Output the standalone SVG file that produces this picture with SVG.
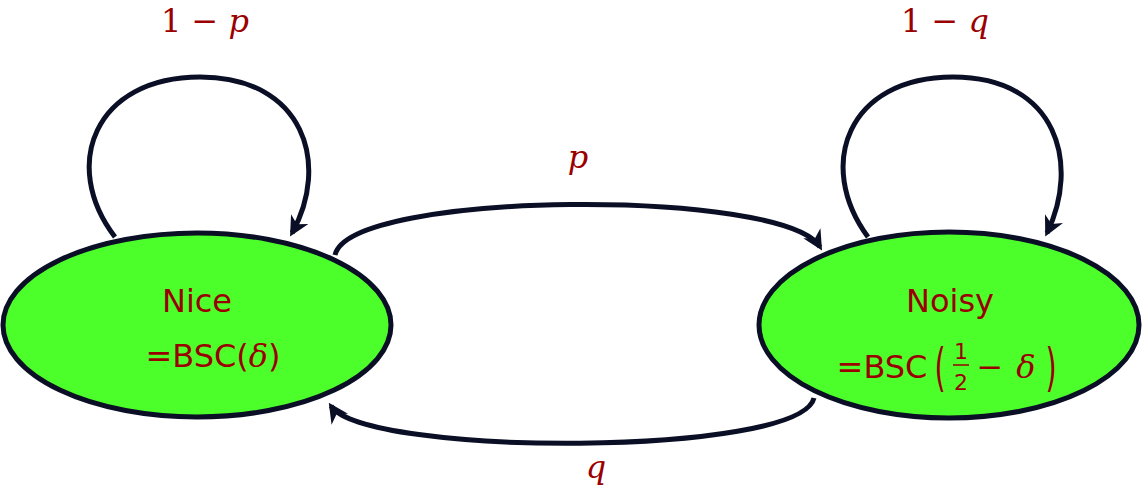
<svg xmlns="http://www.w3.org/2000/svg" width="1145" height="491" viewBox="0 0 1145 491">
<style>
.node{fill:#4cff2a;stroke:#0b0f26;stroke-width:5}
.edge{fill:none;stroke:#0b0f26;stroke-width:5}
.t{font-family:"DejaVu Sans",sans-serif;font-size:32px;fill:#9a0000;text-anchor:middle}
.m{font-family:"DejaVu Serif",serif;font-size:32px;fill:#9a0000;text-anchor:middle}
.i{font-style:italic}
.f{font-family:"DejaVu Sans",sans-serif;font-size:22px;fill:#9a0000;text-anchor:middle}
.p{font-family:"DejaVu Sans",sans-serif;font-size:52px;fill:#9a0000;text-anchor:middle}
</style>
<defs>
<marker id="ah" viewBox="0 0 10 10" refX="8" refY="5" markerWidth="4" markerHeight="4" orient="auto-start-reverse" markerUnits="strokeWidth">
<path d="M0,0 L10,5 L0,10 L3,5 z" fill="#0b0f26"/>
</marker>
</defs>
<g id="connectors">
<path class="edge" d="M115,237 C60,165 95,77 200,77 C305,77 330,165 292,233" marker-end="url(#ah)"/>
<path class="edge" d="M868,237 C815,165 848,77 953,77 C1058,77 1080,165 1047,233" marker-end="url(#ah)"/>
<path class="edge" d="M335,255 C350,190 785,188 820,247" marker-end="url(#ah)"/>
<path class="edge" d="M814,398 C800,457 365,457 331,406" marker-end="url(#ah)"/>
</g>
<g id="nice">
<ellipse class="node" cx="197" cy="325" rx="194" ry="92"/>
<text class="t" x="197" y="312">Nice</text>
<text class="t" x="213" y="367">=BSC(<tspan style="font-family:'DejaVu Serif';font-style:italic">δ</tspan>)</text>
</g>
<g id="noisy">
<ellipse class="node" cx="949" cy="325" rx="190" ry="93"/>
<text class="t" x="950" y="312">Noisy</text>
<text class="t" x="882" y="378">=BSC</text>
<text class="p" transform="translate(940,385) scale(0.55,1)" x="0" y="0">(</text>
<text class="f" x="961" y="359">1</text>
<line x1="953" y1="365" x2="969" y2="365" stroke="#9a0000" stroke-width="1.5"/>
<text class="f" x="961" y="390">2</text>
<text class="t" x="990" y="378">−</text>
<text class="m i" x="1026" y="378">δ</text>
<text class="p" transform="translate(1051,385) scale(0.55,1)" x="0" y="0">)</text>
</g>
<g id="labels">
<text class="m" x="205" y="32">1 − <tspan class="i">p</tspan></text>
<text class="m i" x="578" y="168">p</text>
<text class="m" x="945" y="32">1 − <tspan class="i">q</tspan></text>
<text class="m i" x="596" y="478">q</text>
</g>
</svg>
